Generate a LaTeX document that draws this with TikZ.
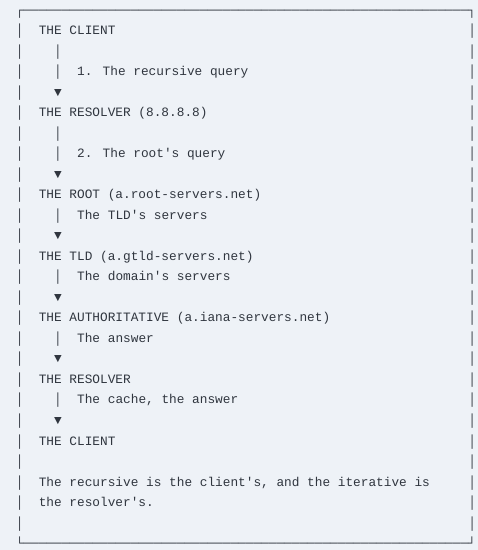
\documentclass[tikz,border=0pt]{standalone}
\usepackage{fontspec}
\newfontfamily\dmono{Liberation Mono}
\definecolor{bgc}{HTML}{EEF2F7}
\definecolor{inkc}{HTML}{30363F}
\tikzset{
  txt/.style={inner sep=0pt, outer sep=0pt, anchor=base west, text=inkc,
    font=\dmono\fontsize{12.78}{15}\selectfont},
}
% column -> x, row -> baseline y
\newcommand\cx[1]{15.8+7.67*#1}
\newcommand\ry[1]{34.6+20.52*(#1-1)}
\begin{document}
\begin{tikzpicture}[x=1pt,y=-1pt]
\fill[bgc] (0,0) rectangle (478,550);
\useasboundingbox (0,0) rectangle (478,550);
% frame
\node[txt] (top) at ({\cx{0}},{\ry{0}}) {┌──────────────────────────────────────────────────────────┐};
\node[txt] (bottom) at ({\cx{0}},{\ry{26}}) {└──────────────────────────────────────────────────────────┘};
\foreach \r in {1,...,25}{
  \node[txt] (L\r) at ({\cx{0}},{\ry{\r}}) {│};
  \node[txt] (R\r) at ({\cx{59}},{\ry{\r}}) {│};
}
% inner bars
\foreach \r in {2,3,6,7,10,13,16,19}{
  \node[txt] (bar\r) at ({\cx{5}},{\ry{\r}}) {│};
}
% arrowheads
\foreach \r in {4,8,11,14,17,20}{
  \node[txt] (arr\r) at ({\cx{5}},{\ry{\r}}) {▼};
}
% texts
\node[txt] (client1) at ({\cx{3}},{\ry{1}}) {THE CLIENT};
\node[txt] (q1) at ({\cx{8}},{\ry{3}}) {1. The recursive query};
\node[txt] (resolver1) at ({\cx{3}},{\ry{5}}) {THE RESOLVER (8.8.8.8)};
\node[txt] (q2) at ({\cx{8}},{\ry{7}}) {2. The root's query};
\node[txt] (root) at ({\cx{3}},{\ry{9}}) {THE ROOT (a.root-servers.net)};
\node[txt] (a1) at ({\cx{8}},{\ry{10}}) {The TLD's servers};
\node[txt] (tld) at ({\cx{3}},{\ry{12}}) {THE TLD (a.gtld-servers.net)};
\node[txt] (a2) at ({\cx{8}},{\ry{13}}) {The domain's servers};
\node[txt] (auth) at ({\cx{3}},{\ry{15}}) {THE AUTHORITATIVE (a.iana-servers.net)};
\node[txt] (a3) at ({\cx{8}},{\ry{16}}) {The answer};
\node[txt] (resolver2) at ({\cx{3}},{\ry{18}}) {THE RESOLVER};
\node[txt] (a4) at ({\cx{8}},{\ry{19}}) {The cache, the answer};
\node[txt] (client2) at ({\cx{3}},{\ry{21}}) {THE CLIENT};
\node[txt] (note1) at ({\cx{3}},{\ry{23}}) {The recursive is the client's, and the iterative is};
\node[txt] (note2) at ({\cx{3}},{\ry{24}}) {the resolver's.};
\end{tikzpicture}
\end{document}
